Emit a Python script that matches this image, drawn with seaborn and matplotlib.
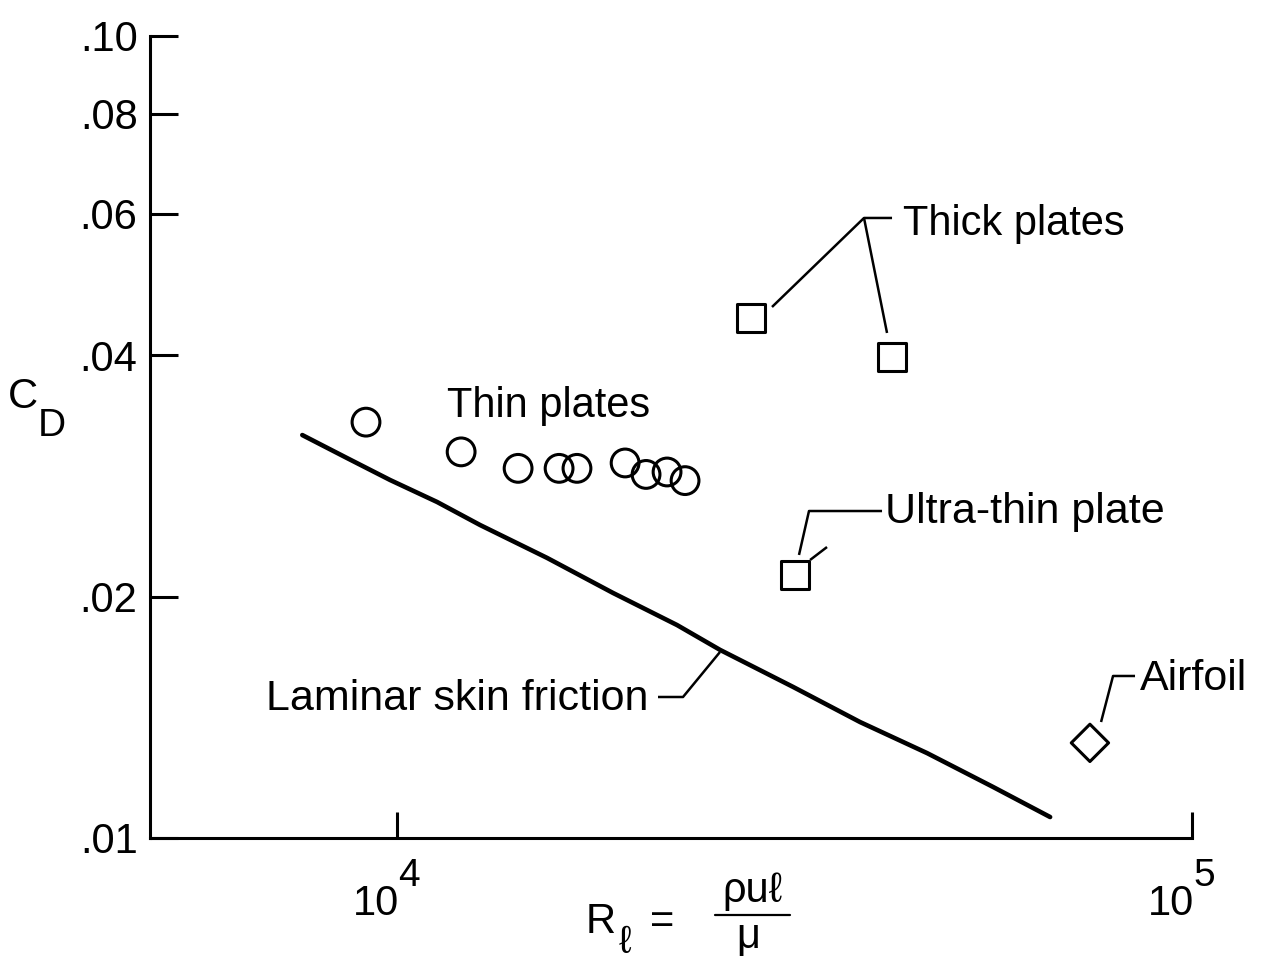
import numpy as np
import pandas as pd
import matplotlib
matplotlib.use("Agg")
import matplotlib.pyplot as plt
from matplotlib.ticker import NullLocator, FixedLocator, FixedFormatter, NullFormatter
from matplotlib.transforms import blended_transform_factory
from matplotlib.lines import Line2D
import seaborn as sns

# ---------------- data ----------------
thin_re = [9140, 12040, 14200, 15990, 16840, 19360, 20570, 21860, 23030]
thin_cd = [0.0330, 0.0303, 0.0289, 0.0289, 0.0289, 0.02935, 0.0284, 0.0286, 0.0279]

thick_re = [27870, 41950]
thick_cd = [0.0445, 0.0398]

ultra_re = [31670]
ultra_cd = [0.0213]

airfoil_re = [74400]
airfoil_cd = [0.01314]

laminar_re = [7600, 8650, 9800, 11230, 12720, 15440, 18690, 22500, 25490,
              31490, 38230, 46420, 56180, 66300]
laminar_cd = [0.0318, 0.02977, 0.02795, 0.02624, 0.02456, 0.02235, 0.02021,
              0.01843, 0.01716, 0.01543, 0.01395, 0.01276, 0.01158, 0.01062]

y_ticks = [0.01, 0.02, 0.04, 0.06, 0.08, 0.10]
y_tick_labels = [".01", ".02", ".04", ".06", ".08", ".10"]
x_ticks = [1e4, 1e5]
x_tick_mantissa = ["10", "10"]
x_tick_exponents = ["4", "5"]

# ---------------- style ----------------
sns.set_style("white")
plt.rcParams["font.family"] = ["Liberation Sans", "DejaVu Sans"]
for k in ["text.color", "axes.labelcolor", "xtick.color", "ytick.color",
          "axes.edgecolor"]:
    plt.rcParams[k] = "black"

FS = 30
LW_AX = 2.2
LW_LEAD = 1.8
W, H = 1263, 960

fig = plt.figure(figsize=(W / 100, H / 100), dpi=100)
ax = fig.add_axes([0.1188, 0.1271, 0.9438 - 0.1188, 0.9625 - 0.1271])

ax.set_xscale("log")
ax.set_yscale("log")

lam = pd.DataFrame({"Re": laminar_re, "Cd": laminar_cd})
sns.lineplot(data=lam, x="Re", y="Cd", color="black", linewidth=3.3,
             ax=ax, solid_capstyle="round", solid_joinstyle="round", sort=False)

mk = dict(facecolor="none", edgecolor="black", linewidth=2.2, zorder=5,
          clip_on=False, legend=False)
sns.scatterplot(x=thin_re, y=thin_cd, marker="o", s=400, ax=ax, **mk)
sns.scatterplot(x=thick_re, y=thick_cd, marker="s", s=400, ax=ax, **mk)
sns.scatterplot(x=ultra_re, y=ultra_cd, marker="s", s=400, ax=ax, **mk)
sns.scatterplot(x=airfoil_re, y=airfoil_cd, marker="D", s=361, ax=ax, **mk)

ax.set_xlim(4890, 1e5)
ax.set_ylim(0.01, 0.10)

ax.xaxis.set_major_locator(FixedLocator(x_ticks))
ax.xaxis.set_major_formatter(NullFormatter())
ax.yaxis.set_major_locator(FixedLocator(y_ticks))
ax.yaxis.set_major_formatter(FixedFormatter(y_tick_labels))
ax.xaxis.set_minor_locator(NullLocator())
ax.yaxis.set_minor_locator(NullLocator())
ax.xaxis.set_minor_formatter(NullFormatter())
ax.yaxis.set_minor_formatter(NullFormatter())

for s in ["top", "right"]:
    ax.spines[s].set_visible(False)
for s in ["left", "bottom"]:
    ax.spines[s].set_linewidth(LW_AX)
ax.tick_params(axis="y", direction="in", length=20, width=LW_AX,
               labelsize=FS, pad=9, left=True)
ax.tick_params(axis="x", direction="in", length=19, width=LW_AX,
               labelsize=FS, pad=10, bottom=True)
ax.set_xlabel("")
ax.set_ylabel("")

# x tick labels: 10 with large exponent
bt = blended_transform_factory(ax.transData, ax.transAxes)
for xv, m, e in zip(x_ticks, x_tick_mantissa, x_tick_exponents):
    ax.annotate(m, xy=(xv, 0), xycoords=bt, xytext=(1.5, -55.5),
                textcoords="offset points", ha="right", va="baseline",
                fontsize=FS, annotation_clip=False)
    ax.annotate(e, xy=(xv, 0), xycoords=bt, xytext=(1.0, -34.5),
                textcoords="offset points", ha="left", va="baseline",
                fontsize=FS - 2, annotation_clip=False)


def fx(px):
    return px / W


def fy(py):
    return 1 - py / H


# y axis label C_D
fig.text(fx(8), fy(408), "C", fontsize=FS, ha="left", va="baseline")
fig.text(fx(38), fy(436), "D", fontsize=FS - 2, ha="left", va="baseline")

# x axis label  R_l = rho u l / mu
fig.text(fx(586), fy(933), "R", fontsize=FS, ha="left", va="baseline")
fig.text(fx(619), fy(953), "ℓ", fontsize=FS - 2, ha="left", va="baseline")
fig.text(fx(662), fy(933), "=", fontsize=FS, ha="center", va="baseline")
fig.text(fx(752), fy(902), "ρuℓ", fontsize=FS, ha="center", va="baseline")
fig.add_artist(Line2D([fx(715), fx(790)], [fy(915), fy(915)], color="black",
                      linewidth=1.6, transform=fig.transFigure))
fig.text(fx(748), fy(948), "μ", fontsize=FS, ha="center", va="baseline")

# ---------------- annotations (axes-fraction layout) ----------------
T = ax.transAxes
lead = dict(color="black", linewidth=LW_LEAD, transform=T, clip_on=False,
            solid_capstyle="butt")

# Thick plates
ax.plot([0.5969, 0.6852, 0.7121], [0.6621, 0.7731, 0.7731], **lead)
ax.plot([0.6852, 0.7073], [0.7731, 0.6297], **lead)
ax.text(0.7226, 0.7519, "Thick plates", transform=T, fontsize=FS,
        ha="left", va="baseline")

# Thin plates
ax.text(0.2850, 0.5249, "Thin plates", transform=T, fontsize=FS,
        ha="left", va="baseline")

# Ultra-thin plate
ax.plot([0.6228, 0.6324, 0.7025], [0.3529, 0.4077, 0.4077], **lead)
ax.plot([0.6334, 0.6497], [0.3466, 0.3628], **lead)
ax.text(0.7054, 0.3928, "Ultra-thin plate", transform=T, fontsize=FS + 1,
        ha="left", va="baseline")

# Airfoil
ax.plot([0.9127, 0.9242, 0.9453], [0.1446, 0.2020, 0.2020], **lead)
ax.text(0.9501, 0.1845, "Airfoil", transform=T, fontsize=FS + 1,
        ha="left", va="baseline", clip_on=False)

# Laminar skin friction
ax.plot([0.4875, 0.5115, 0.5470], [0.1758, 0.1758, 0.2319], **lead)
ax.text(0.4779, 0.1596, "Laminar skin friction", transform=T, fontsize=FS + 1,
        ha="right", va="baseline")

fig.savefig("out.png", dpi=100, facecolor="white")
